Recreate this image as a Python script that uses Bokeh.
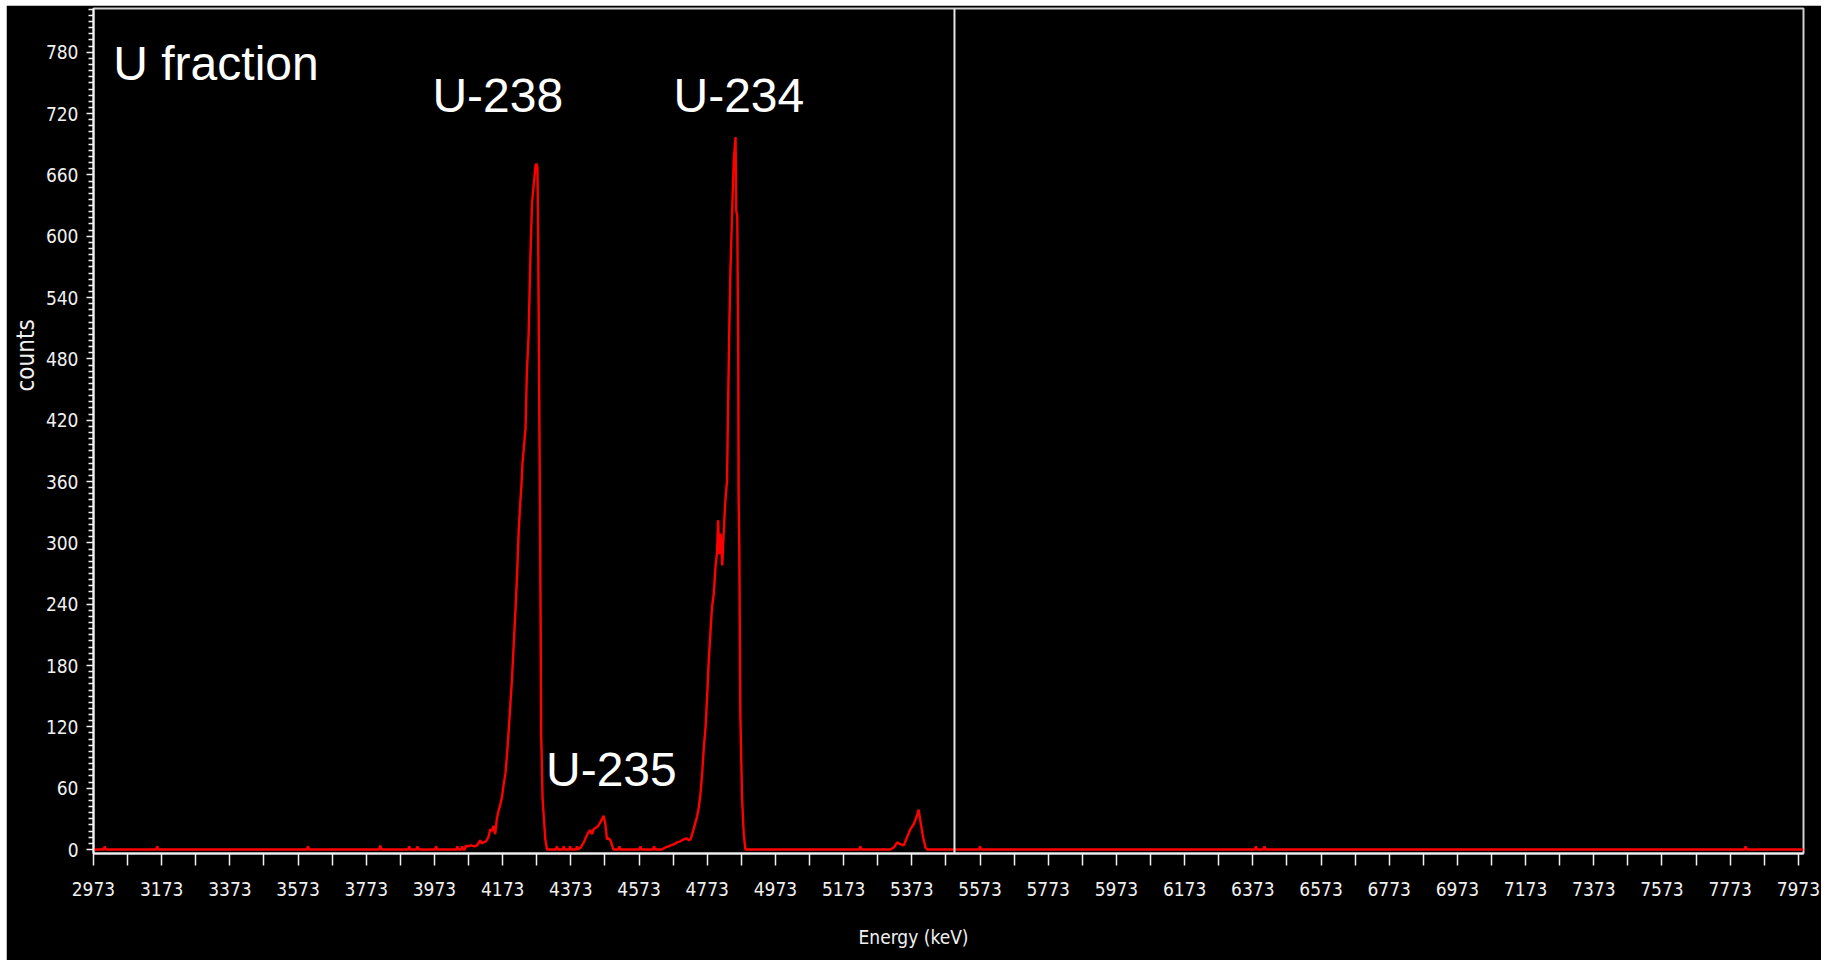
from bokeh.plotting import figure
from bokeh.models import Range1d, FixedTicker, Label, Span, Title
from bokeh.embed import file_html
from bokeh.resources import INLINE

# ---- data ----
energy_kev = [
    2973,
    3003, 3006, 3009, 3157, 3160, 3163, 3599, 3602, 3605, 3811, 3814, 3817,
    3896, 3899, 3902, 3920, 3923, 3926, 3975, 3978, 3981, 4037, 4040, 4043,
    4051, 4054, 4057,
    # U-238 peak
    4062, 4065, 4070, 4080, 4090, 4098, 4103, 4107, 4112, 4117, 4124, 4131,
    4137, 4141, 4146, 4151, 4156, 4161, 4166, 4171, 4176, 4181, 4186, 4190,
    4195, 4200, 4205, 4210, 4215, 4220, 4225, 4228, 4231, 4240, 4244, 4249,
    4254, 4259, 4264, 4269, 4272, 4275, 4277, 4280, 4283, 4286, 4290, 4293,
    4298, 4303,
    # valley and U-235
    4329, 4332, 4335, 4349, 4352, 4355, 4368, 4371, 4374, 4388, 4391, 4394,
    4402, 4407, 4411, 4416, 4420, 4425, 4430, 4435, 4440, 4445, 4450, 4455,
    4460, 4465, 4469, 4474, 4479, 4484, 4489, 4494, 4498,
    4512, 4515, 4518, 4574, 4577, 4580, 4614, 4617, 4620,
    # U-234 peak
    4640, 4650, 4660, 4665, 4675, 4684, 4694, 4704, 4712, 4719, 4724, 4728,
    4733, 4738, 4743, 4748, 4753, 4758, 4763, 4768, 4773, 4777, 4782, 4787,
    4792, 4797, 4802, 4805, 4808, 4812, 4817, 4821, 4826, 4831, 4834, 4838,
    4841, 4846, 4851, 4856, 4858, 4861, 4864, 4865, 4867, 4870, 4875, 4880,
    4885,
    # small peak near 5390
    5219, 5222, 5225,
    5310, 5320, 5330, 5340, 5349, 5359, 5369, 5379, 5388, 5393, 5398, 5406,
    5413, 5418,
    5570, 5573, 5576, 6379, 6382, 6385, 6404, 6407, 6410, 7815, 7818, 7821,
    7988,
]
counts = [
    0,
    0, 3, 0, 0, 3, 0, 0, 3, 0, 0, 4, 0,
    0, 3, 0, 0, 3, 0, 0, 3, 0, 0, 3, 0,
    0, 3, 0,
    0, 4, 3, 4, 3, 4, 7, 9, 6, 7, 8, 12,
    20, 18, 23, 15, 30, 38, 44, 51, 64, 74, 94, 113,
    139, 165, 198, 231, 266, 312, 341, 356, 377, 412, 467, 503,
    576, 632, 650, 668, 671, 667, 602, 451, 300, 113, 50, 35,
    10, 0,
    0, 3, 0, 0, 3, 0, 0, 3, 0, 0, 3, 0,
    2, 5, 7, 11, 14, 17, 19, 15, 20, 21, 22, 24,
    27, 30, 33, 25, 10, 11, 9, 4, 0,
    0, 3, 0, 0, 3, 0, 0, 3, 0,
    0, 2, 3, 4, 5, 7, 8, 10, 11, 9, 10, 14,
    20, 26, 32, 41, 54, 74, 100, 120, 152, 182, 211, 237,
    250, 276, 292, 322, 289, 309, 278, 309, 341, 361, 433, 517,
    566, 625, 676, 697, 625, 620, 477, 341, 296, 133, 51, 15,
    0,
    0, 3, 0,
    0, 2, 7, 5, 4, 12, 20, 25, 33, 39, 28, 12,
    2, 0,
    0, 3, 0, 0, 3, 0, 0, 3, 0, 0, 3, 0,
    0,
]

x_tick_labels = ["2973", "3173", "3373", "3573", "3773", "3973", "4173", "4373",
                 "4573", "4773", "4973", "5173", "5373", "5573", "5773", "5973",
                 "6173", "6373", "6573", "6773", "6973", "7173", "7373", "7573",
                 "7773", "7973"]
y_tick_labels = ["0", "60", "120", "180", "240", "300", "360", "420", "480",
                 "540", "600", "660", "720", "780"]

cursor_kev = 5498

peak_labels = ["U-238", "U-234", "U-235"]
peak_label_x = [3967, 4674, 4300]
peak_label_y = [738, 738, 78]

# ---- figure ----
x_ticks = [int(t) for t in x_tick_labels]
x_minor = [t + 100 for t in x_ticks[:-1]]
y_ticks = [int(t) for t in y_tick_labels]
y_minor = [v for v in range(0, 823, 6) if v not in y_ticks]

p = figure(width=1815, height=955, output_backend="svg", toolbar_location=None,
           x_range=Range1d(2973, 7988), y_range=Range1d(-3.9, 822.8),
           min_border_left=87, min_border_right=18, min_border_top=3,
           min_border_bottom=107, margin=(5, 0, 0, 6))
p.background_fill_color = "black"
p.border_fill_color = "black"
p.grid.visible = False
p.outline_line_color = "#d0d0d0"
p.outline_line_width = 2

p.line(energy_kev, counts, line_color="#ff0000", line_width=2.4)

p.add_layout(Span(location=cursor_kev, dimension="height",
                  line_color="#e6e6e6", line_width=2))

axis_col = "#f0f0f0"
tick_font = "DejaVu Sans Condensed"

xa = p.xaxis[0]
xa.ticker = FixedTicker(ticks=x_ticks, minor_ticks=x_minor)
xa.major_label_overrides = {t: s for t, s in zip(x_ticks, x_tick_labels)}
xa.axis_line_color = axis_col
xa.axis_line_width = 2
xa.major_tick_line_color = axis_col
xa.minor_tick_line_color = axis_col
xa.major_tick_line_width = 1.5
xa.minor_tick_line_width = 1.5
xa.major_tick_in = 0
xa.major_tick_out = 12
xa.minor_tick_in = 0
xa.minor_tick_out = 12
xa.major_label_text_color = axis_col
xa.major_label_text_font = tick_font
xa.major_label_text_font_size = "19px"
xa.major_label_standoff = 16

ya = p.yaxis[0]
ya.ticker = FixedTicker(ticks=y_ticks, minor_ticks=y_minor)
ya.major_label_overrides = {t: s for t, s in zip(y_ticks, y_tick_labels)}
ya.axis_line_color = axis_col
ya.axis_line_width = 2
ya.major_tick_line_color = axis_col
ya.minor_tick_line_color = axis_col
ya.major_tick_line_width = 1.5
ya.minor_tick_line_width = 1.5
ya.major_tick_in = 0
ya.major_tick_out = 7
ya.minor_tick_in = 0
ya.minor_tick_out = 5
ya.major_label_text_color = axis_col
ya.major_label_text_font = tick_font
ya.major_label_text_font_size = "19px"
ya.major_label_standoff = 8

# axis titles (placed off-centre like the reference)
p.add_layout(Title(text="\nEnergy (keV)", align="left", offset=765,
                   text_color=axis_col, text_font=tick_font,
                   text_font_size="19px", text_font_style="normal",
                   standoff=6), "below")
p.add_layout(Title(text="counts", align="left", offset=462,
                   text_color=axis_col, text_font=tick_font,
                   text_font_size="24px", text_font_style="normal",
                   standoff=5), "left")

# annotations
p.add_layout(Label(x=3031, y=769, text="U fraction", text_color="white",
                   text_font="Liberation Sans", text_font_size="48px",
                   text_align="left", text_baseline="alphabetic"))
for t, lx, ly in zip(peak_labels, peak_label_x, peak_label_y):
    p.add_layout(Label(x=lx, y=ly, text=t, text_color="white",
                       text_font="Liberation Sans", text_font_size="48px",
                       text_align="left", text_baseline="alphabetic"))

open("out.html", "w").write(file_html(p, INLINE))
